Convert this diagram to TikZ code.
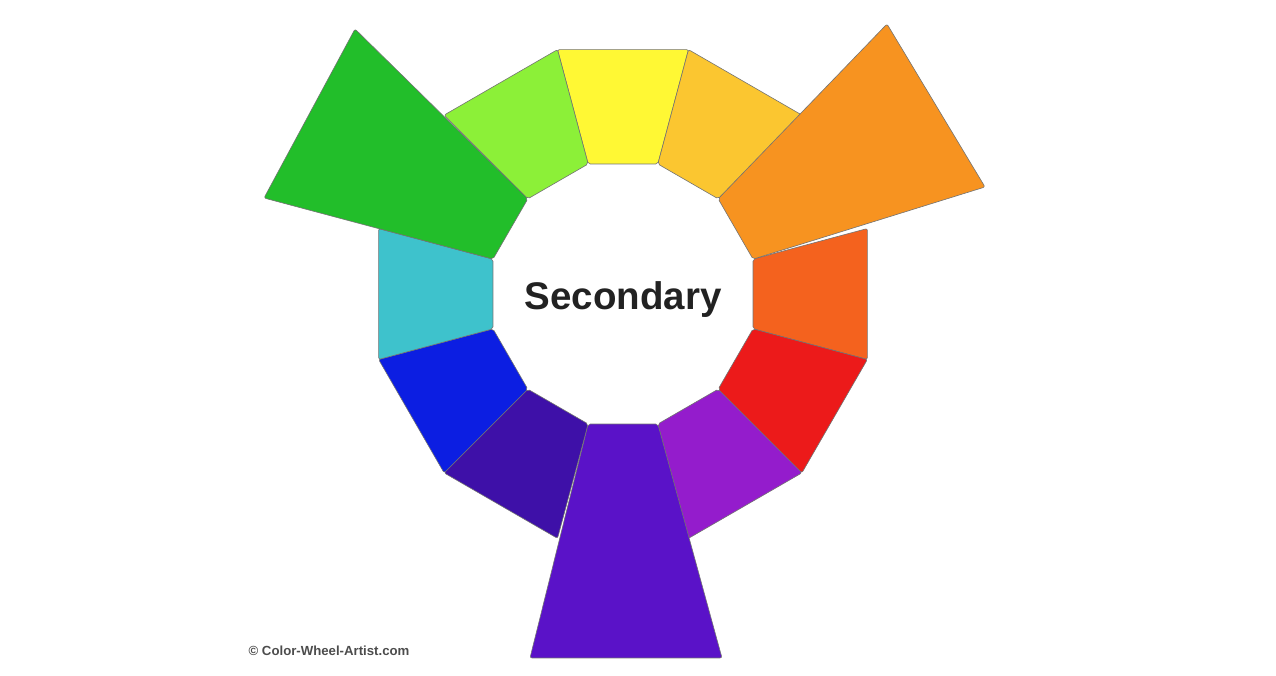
\documentclass[tikz,border=0pt]{standalone}
\usepackage{fontspec}
\setmainfont{Liberation Sans}
\definecolor{cY}{RGB}{255,248,52}
\definecolor{cYO}{RGB}{251,198,48}
\definecolor{cO}{RGB}{247,147,32}
\definecolor{cRO}{RGB}{244,98,30}
\definecolor{cR}{RGB}{236,26,26}
\definecolor{cRV}{RGB}{148,28,204}
\definecolor{cV}{RGB}{90,18,200}
\definecolor{cBV}{RGB}{62,16,168}
\definecolor{cB}{RGB}{12,30,226}
\definecolor{cC}{RGB}{62,194,204}
\definecolor{cG}{RGB}{34,190,42}
\definecolor{cYG}{RGB}{140,240,56}
\definecolor{txt}{RGB}{34,34,34}
\begin{document}
\begin{tikzpicture}[x=1pt,y=1pt,
  seg/.style={draw=black!55, line width=0.6pt, line join=round, rounded corners=2pt},
  title/.style={font=\bfseries\fontsize{38.5}{40}\selectfont, text=txt, inner sep=0pt},
  credit/.style={font=\bfseries\fontsize{13.2}{14}\selectfont, text=black!70, inner sep=0pt}]
\useasboundingbox (0,0) rectangle (1276,676);
\begin{scope}[shift={(623,382)}]
  \def\rin{134.6}
  \foreach \ang/\col/\rout in {90/cY/253, 60/cYO/253, 0/cRO/253, -30/cR/253,
      -60/cRV/253, -120/cBV/253, -150/cB/253, 180/cC/253, 120/cYG/253} {
    \pgfmathsetmacro\aa{\ang-15}
    \pgfmathsetmacro\ab{\ang+15}
    \filldraw[seg, fill=\col] (\aa:\rin) -- (\aa:\rout) -- (\ab:\rout) -- (\ab:\rin) -- cycle;
  }
  % extended secondary segments
  \filldraw[seg, fill=cO] (15:\rin) -- (985-623,489-382) -- (887-623,652-382) -- (45:\rin) -- cycle;
  \filldraw[seg, fill=cV] (-105:\rin) -- (530-623,18-382) -- (722-623,18-382) -- (-75:\rin) -- cycle;
  \filldraw[seg, fill=cG] (135:\rin) -- (355-623,647-382) -- (264-623,478-382) -- (165:\rin) -- cycle;
\end{scope}
\node[title] (secondary) at (623,376) {Secondary};
\node[credit] (credit) at (329,25) {© Color-Wheel-Artist.com};
\end{tikzpicture}
\end{document}
